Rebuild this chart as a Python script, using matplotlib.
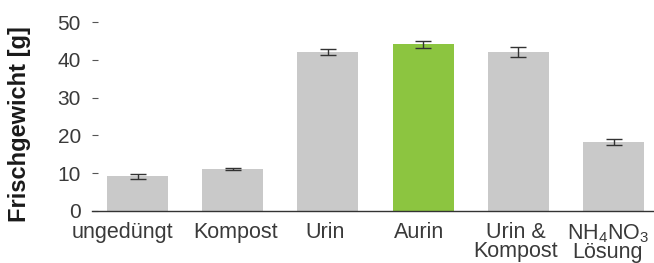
import matplotlib
matplotlib.use("Agg")
import matplotlib.pyplot as plt
import matplotlib.transforms as mtransforms
import numpy as np

# values
categories = ["ungedüngt", "Kompost", "Urin", "Aurin", "Urin &\nKompost",
              "NH$_4$NO$_3$\nLösung"]
fresh_weight = [9.1, 11.0, 42.1, 44.2, 42.1, 18.2]
errors = [0.6, 0.2, 0.9, 0.9, 1.4, 0.85]
bar_colors = ["#c9c9c9", "#c9c9c9", "#c9c9c9", "#8cc540", "#c9c9c9", "#c9c9c9"]
yticks = [0, 10, 20, 30, 40, 50]

plt.rcParams["font.family"] = ["Liberation Sans", "DejaVu Sans"]
plt.rcParams["mathtext.default"] = "regular"

fig = plt.figure(figsize=(6.54, 2.63), dpi=100)
ax = fig.add_axes([0.1407, 0.1989, 0.8593, 0.7163])

x = np.arange(len(categories))
ax.bar(x, fresh_weight, width=0.64, color=bar_colors, zorder=2)
ax.errorbar(x, fresh_weight, yerr=errors, fmt="none", ecolor="#333333",
            elinewidth=1.0, capsize=5.5, capthick=1.0, zorder=3)

ax.set_xlim(-0.478, 5.425)
ax.set_ylim(0, 50)
ax.set_yticks(yticks)
ax.set_yticklabels([str(t) for t in yticks])
ax.set_xticks(x)
ax.set_xticklabels(categories, linespacing=0.82)

for side in ["top", "right", "left"]:
    ax.spines[side].set_visible(False)
ax.spines["bottom"].set_color("#333333")
ax.spines["bottom"].set_linewidth(1.0)

ax.tick_params(axis="y", direction="in", length=4, width=0.8, color="#555555",
               pad=8, labelsize=15, labelcolor="#3a3a3a")
ax.tick_params(axis="x", length=0, pad=8.5, labelsize=15.5, labelcolor="#3a3a3a")

# nudge a few category labels sideways so they don't crowd each other
label_shift_pt = [-11, 2, -2, -3, -2, -4]
for lbl, dx in zip(ax.get_xticklabels(), label_shift_pt):
    offset = mtransforms.ScaledTranslation(dx / 72, 0, fig.dpi_scale_trans)
    lbl.set_transform(lbl.get_transform() + offset)

fig.text(0.030, 0.527, "Frischgewicht [g]", rotation=90, va="center",
         ha="center", fontsize=17, fontweight="bold", color="#1a1a1a")

fig.savefig("out.png", dpi=100)
